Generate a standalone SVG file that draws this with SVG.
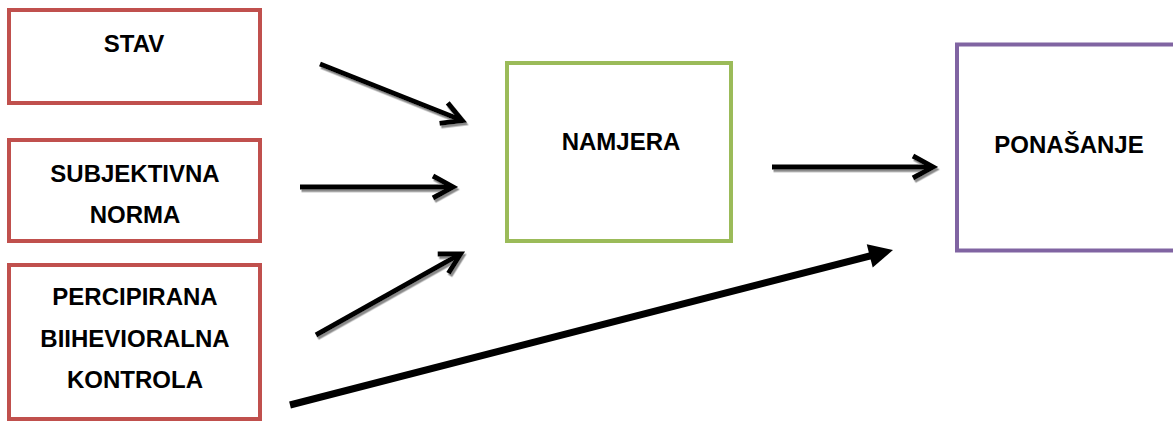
<svg xmlns="http://www.w3.org/2000/svg" width="1173" height="422" viewBox="0 0 1173 422">
  <style>
    .box { fill: #ffffff; stroke-width: 4; }
    .red { stroke: #C0504D; }
    .green { stroke: #9BBB59; }
    .purple { stroke: #8064A2; }
    .lbl { font-family: "Liberation Sans", Arial, sans-serif; font-weight: bold; font-size: 24px; fill: #000; text-anchor: middle; }
    .thin { fill: none; stroke: #000; stroke-width: 5; marker-end: url(#chev); }
    .thick { fill: none; stroke: #000; stroke-width: 7; marker-end: url(#tri); }
  </style>
  <defs>
    <filter id="shadow" filterUnits="userSpaceOnUse" x="0" y="0" width="1173" height="422">
      <feDropShadow dx="1.5" dy="2.5" stdDeviation="0.4" flood-color="#8a8a8a" flood-opacity="1"/>
    </filter>
    <marker id="chev" markerUnits="userSpaceOnUse" viewBox="-30 -20 45 40" markerWidth="45" markerHeight="40" refX="0" refY="0" orient="auto" overflow="visible">
      <path d="M-18,-11 L2,0 L-18,11" fill="none" stroke="#000" stroke-width="5"/>
    </marker>
    <marker id="tri" markerUnits="userSpaceOnUse" viewBox="-10 -20 40 40" markerWidth="40" markerHeight="40" refX="0" refY="0" orient="auto" overflow="visible">
      <path d="M-4,-12 L20,0 L-4,12 Z" fill="#000"/>
    </marker>
  </defs>
  <rect width="1173" height="422" fill="#ffffff"/>

  <g id="stav">
    <rect class="box red" x="9" y="10" width="251" height="93"/>
    <text class="lbl" x="134" y="52">STAV</text>
  </g>
  <g id="subjektivna-norma">
    <rect class="box red" x="9" y="140" width="251" height="101"/>
    <text class="lbl" x="135" y="182">SUBJEKTIVNA</text>
    <text class="lbl" x="135" y="223">NORMA</text>
  </g>
  <g id="percipirana-kontrola">
    <rect class="box red" x="9" y="265" width="251" height="154"/>
    <text class="lbl" x="135" y="305">PERCIPIRANA</text>
    <text class="lbl" x="135" y="347">BIIHEVIORALNA</text>
    <text class="lbl" x="135" y="388">KONTROLA</text>
  </g>
  <g id="namjera">
    <rect class="box green" x="507" y="63" width="224" height="178"/>
    <text class="lbl" x="621" y="150">NAMJERA</text>
  </g>
  <g id="ponasanje">
    <rect class="box purple" x="957" y="44.5" width="230" height="206"/>
    <text class="lbl" x="1069" y="153">PONAŠANJE</text>
  </g>

  <g id="connectors">
    <g filter="url(#shadow)">
      <path class="thin" d="M320,64 L460.4,119.8"/>
      <path class="thin" d="M300,187 L451,187"/>
      <path class="thin" d="M316,335 L458.8,254.9"/>
      <path class="thin" d="M772,167 L931,167"/>
    </g>
    <path class="thick" d="M290,405 L873.6,255"/>
  </g>
</svg>
